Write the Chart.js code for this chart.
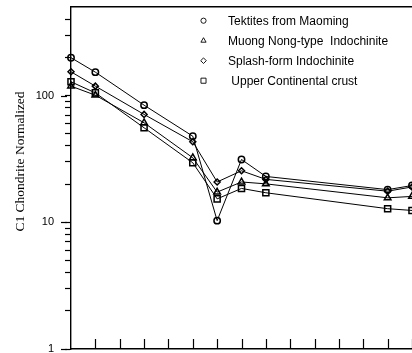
<!DOCTYPE html>
<html>
<head>
<meta charset="utf-8">
<script src="https://cdn.jsdelivr.net/npm/chart.js@4/dist/chart.umd.min.js"></script>
<style>
  html, body { margin: 0; padding: 0; background: #fff; overflow: hidden; }
  #wrap { position: relative; width: 412px; height: 353px; }
</style>
</head>
<body>
<div id="wrap"><canvas id="c" width="412" height="353"></canvas></div>
<script>
// Rare earth elements along the x axis (Pm and the unanalysed elements stay empty)
const elements = ['La', 'Ce', 'Pr', 'Nd', 'Pm', 'Sm', 'Eu', 'Gd', 'Tb', 'Dy', 'Ho', 'Er', 'Tm', 'Yb', 'Lu'];

// Chondrite-normalized abundances
const tektitesMaoming = [199, 153, null, 84, null, 47.8, 10.3, 31.3, 23.0, null, null, null, null, 18.1, 19.5];
const muongNongType   = [118.7, 100.7, null, 61, null, 32.3, 17.3, 20.8, 20.1, null, null, null, null, 15.6, 16.0];
const splashForm      = [154, 118.7, null, 71, null, 43.2, 20.8, 25.5, 21.8, null, null, null, null, 17.6, 19.0];
const upperCrust      = [128.5, 105, null, 55.7, null, 29.5, 15.3, 18.5, 17.1, null, null, null, null, 12.8, 12.4];

const seriesLabels = ['Tektites from Maoming', 'Muong Nong-type  Indochinite', 'Splash-form Indochinite', ' Upper Continental crust'];

// Log axis: tick marks at every 1-9 multiple, numbers only on the decades
const yTickValues = [1, 2, 3, 4, 5, 6, 7, 8, 9, 10, 20, 30, 40, 50, 60, 70, 80, 90, 100, 200, 300, 400, 500];
const yLabelValues = [1, 10, 100];
const yMin = 1, yMax = 500;

const styles = [
  { pointStyle: 'circle',   radius: 3.2, legendRadius: 2.6 },
  { pointStyle: 'triangle', radius: 3.8, legendRadius: 3.0 },
  { pointStyle: 'rectRot',  radius: 3.0, legendRadius: 2.8 },
  { pointStyle: 'rect',     radius: 4.3, legendRadius: 3.6 }
];
const seriesData = [tektitesMaoming, muongNongType, splashForm, upperCrust];

function markerPath(ctx, style, x, y, r) {
  ctx.beginPath();
  if (style === 'circle') {
    ctx.arc(x, y, r, 0, Math.PI * 2);
  } else if (style === 'triangle') {
    for (let k = 0; k < 3; k++) {
      const a = -Math.PI / 2 + k * 2 * Math.PI / 3;
      const px = x + Math.cos(a) * r, py = y + Math.sin(a) * r;
      if (k === 0) ctx.moveTo(px, py); else ctx.lineTo(px, py);
    }
    ctx.closePath();
  } else if (style === 'rectRot') {
    ctx.moveTo(x - r, y); ctx.lineTo(x, y - r); ctx.lineTo(x + r, y); ctx.lineTo(x, y + r);
    ctx.closePath();
  } else {
    const s = r * Math.SQRT1_2;
    ctx.rect(x - s, y - s, 2 * s, 2 * s);
  }
}

// Longer marks on the decades, inward ticks on the element axis, legend and axis title
const decorations = {
  id: 'decorations',
  afterDraw(chart) {
    const ctx = chart.ctx;
    const area = chart.chartArea;
    const xs = chart.scales.x, ys = chart.scales.y;
    ctx.save();
    ctx.strokeStyle = '#000';
    ctx.lineWidth = 1.2;

    yLabelValues.forEach(v => {
      const py = Math.round(ys.getPixelForValue(v)) + 0.5;
      ctx.beginPath();
      ctx.moveTo(area.left - 10, py);
      ctx.lineTo(area.left - 4, py);
      ctx.stroke();
    });

    for (let i = 1; i < elements.length; i++) {
      const px = Math.round(xs.getPixelForValue(i)) + 0.5;
      ctx.beginPath();
      ctx.moveTo(px, area.bottom);
      ctx.lineTo(px, area.bottom - 10);
      ctx.stroke();
    }

    ctx.font = '12px "Liberation Sans", Arial, sans-serif';
    ctx.fillStyle = '#000';
    ctx.textBaseline = 'middle';
    ctx.textAlign = 'left';
    seriesLabels.forEach((label, i) => {
      const y = 20.7 + i * 20;
      ctx.lineWidth = 0.9;
      markerPath(ctx, styles[i].pointStyle, 203.5, y, styles[i].legendRadius);
      ctx.stroke();
      ctx.fillText(label, 228, y + 0.5);
    });

    ctx.translate(24, 161.5);
    ctx.rotate(-Math.PI / 2);
    ctx.font = '13.5px "Liberation Serif", "Times New Roman", serif';
    ctx.textAlign = 'center';
    ctx.textBaseline = 'alphabetic';
    ctx.fillText('C1 Chondrite Normalized', 0, 0);
    ctx.restore();
  }
};

new Chart(document.getElementById('c'), {
  type: 'line',
  data: {
    labels: elements,
    datasets: seriesData.map((d, i) => ({
      label: seriesLabels[i],
      data: d,
      spanGaps: true,
      borderColor: '#000',
      borderWidth: 1,
      pointStyle: styles[i].pointStyle,
      pointRadius: styles[i].radius,
      pointBorderWidth: 1.5,
      pointBorderColor: '#000',
      pointBackgroundColor: 'rgba(0,0,0,0)',
      tension: 0,
      clip: false
    }))
  },
  options: {
    responsive: false,
    animation: false,
    devicePixelRatio: 1,
    layout: { autoPadding: false, padding: { top: 7, left: 0, right: 0, bottom: 0 } },
    plugins: { legend: { display: false }, tooltip: { enabled: false } },
    scales: {
      x: {
        type: 'category',
        offset: false,
        grid: { display: false },
        border: { display: true, color: '#000', width: 1.4 },
        ticks: { display: false },
        afterFit(s) { s.height = 4; s.paddingLeft = 0; s.paddingRight = 0; }
      },
      xTop: {
        type: 'category',
        position: 'top',
        offset: false,
        grid: { display: false },
        border: { display: true, color: '#000', width: 1.6 },
        ticks: { display: false },
        afterFit(s) { s.height = 0; s.paddingLeft = 0; s.paddingRight = 0; }
      },
      y: {
        type: 'logarithmic',
        min: yMin,
        max: yMax,
        grid: {
          display: true,
          drawOnChartArea: false,
          drawTicks: true,
          tickLength: 6,
          tickWidth: 1.2,
          tickColor: c => (c.tick && c.tick.value >= yMax ? 'rgba(0,0,0,0)' : '#000')
        },
        border: { display: true, color: '#000', width: 1.4 },
        afterBuildTicks(s) {
          s.ticks = yTickValues.map(v => ({ value: v, major: yLabelValues.includes(v) }));
        },
        ticks: {
          autoSkip: false,
          padding: 11,
          color: '#000',
          font: { family: '"Liberation Sans", Arial, sans-serif', size: 11 },
          callback: v => (yLabelValues.includes(v) ? String(v) : '')
        },
        afterFit(s) { s.width = 71; s.paddingTop = 0; s.paddingBottom = 0; }
      }
    }
  },
  plugins: [decorations]
});
</script>
</body>
</html>
